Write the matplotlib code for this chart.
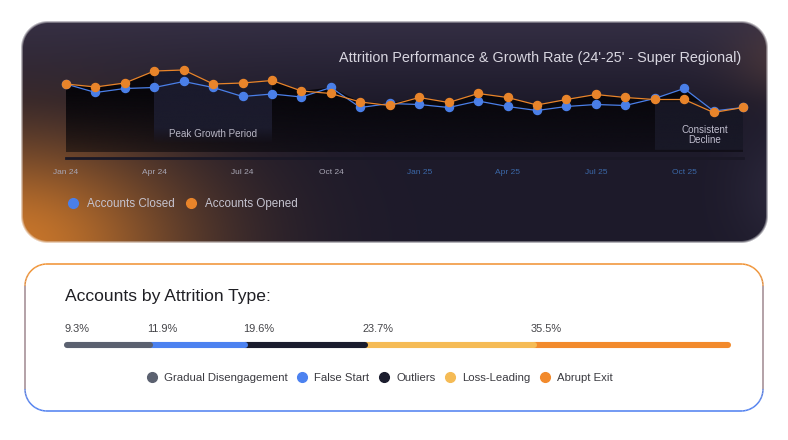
import numpy as np
import matplotlib
matplotlib.use("Agg")
import matplotlib.pyplot as plt
from matplotlib.collections import LineCollection
from matplotlib.lines import Line2D

plt.rcParams["font.family"] = ["Liberation Sans", "DejaVu Sans"]

# ---- data ----
months = ["Jan 24", "Feb 24", "Mar 24", "Apr 24", "May 24", "Jun 24",
          "Jul 24", "Aug 24", "Sep 24", "Oct 24", "Nov 24", "Dec 24",
          "Jan 25", "Feb 25", "Mar 25", "Apr 25", "May 25", "Jun 25",
          "Jul 25", "Aug 25", "Sep 25", "Oct 25", "Nov 25", "Dec 25"]
closed = [740, 655, 695, 705, 765, 705, 615, 640, 610, 705, 505, 545,
          535, 505, 570, 515, 475, 515, 535, 525, 595, 695, 470, 505]
opened = [740, 710, 750, 870, 880, 740, 750, 775, 670, 645, 560, 525,
          605, 555, 645, 605, 530, 585, 635, 605, 585, 585, 455, 505]
tick_months = ["Jan 24", "Apr 24", "Jul 24", "Oct 24",
               "Jan 25", "Apr 25", "Jul 25", "Oct 25"]

types = ["Gradual Disengagement", "False Start", "Outliers",
         "Loss-Leading", "Abrupt Exit"]
type_pct = [9.3, 11.9, 19.6, 23.7, 35.5]
seg_len = [12.5, 14.5, 18.1, 25.5, 29.4]  # drawn length of each segment (% of bar)
type_colors = ["#5b6170", "#4c82f0", "#1b1d2e", "#f5bb55", "#f28a2c"]

BLUE = "#4a7fe8"
ORANGE = "#e8842a"

W, H = 788, 440
fig = plt.figure(figsize=(W / 100, H / 100), dpi=100)


def px_axes(x0, y0, x1, y1):
    return fig.add_axes([x0 / W, 1 - y1 / H, (x1 - x0) / W, (y1 - y0) / H])


def rr_sdf(xx, yy, x0, y0, x1, y1, r):
    cx, cy = (x0 + x1) / 2, (y0 + y1) / 2
    qx = np.abs(xx - cx) - ((x1 - x0) / 2 - r)
    qy = np.abs(yy - cy) - ((y1 - y0) / 2 - r)
    out = np.hypot(np.maximum(qx, 0), np.maximum(qy, 0))
    return out + np.minimum(np.maximum(qx, qy), 0) - r


def rr_points(x0, y0, x1, y1, r, n=24):
    pts = []
    corners = [(x1 - r, y0 + r, -90, 0), (x1 - r, y1 - r, 0, 90),
               (x0 + r, y1 - r, 90, 180), (x0 + r, y0 + r, 180, 270)]
    for cx, cy, a0, a1 in corners:
        a = np.radians(np.linspace(a0, a1, n))
        pts += list(zip(cx + r * np.cos(a), cy + r * np.sin(a)))
    pts.append(pts[0])
    return np.array(pts)


def hexrgb(h):
    return np.array(matplotlib.colors.to_rgb(h))


# ---- background: dark panel with glow ----
bg = fig.add_axes([0, 0, 1, 1])
bg.set_xlim(0, W)
bg.set_ylim(H, 0)
bg.axis("off")

yy, xx = np.mgrid[0:H, 0:W] + 0.5
col = np.ones((H, W, 3)) * hexrgb("#1d1a2a")
top = np.clip(1 - (yy - 22) / 80, 0, 1)[..., None]
col = col + top * np.array([0.09, 0.08, 0.10])


def glow(col, cx, cy, sx, sy, amp, c):
    a = amp * np.exp(-((xx - cx) / sx) ** 2 - ((yy - cy) / sy) ** 2)
    return col * (1 - a[..., None]) + hexrgb(c) * a[..., None]


col = glow(col, 10, 245, 180, 110, 0.95, "#d07a2a")
col = glow(col, 790, 60, 60, 40, 0.3, "#8a5a40")
col = glow(col, 785, 190, 50, 60, 0.3, "#4a4560")

d = rr_sdf(xx, yy, 22, 22, 767, 242, 26)
a_panel = np.clip(0.5 - d / 3, 0, 1)[..., None]
img = np.ones((H, W, 3)) * (1 - a_panel) + np.clip(col, 0, 1) * a_panel
bg.imshow(img, extent=(0, W, H, 0), aspect="auto", interpolation="bilinear")

# ---- lower card border (orange top -> blue bottom) ----
pts = rr_points(25, 264, 763, 411, 22)
segs = np.stack([pts[:-1], pts[1:]], axis=1)
t = np.clip((segs[:, :, 1].mean(axis=1) - 270) / 135, 0, 1)[:, None]
seg_cols = hexrgb("#f0902f") * (1 - t) + hexrgb("#4d7ef0") * t
bg.add_collection(LineCollection(segs, colors=seg_cols, linewidths=1.1))

bg.text(65, 296, "Accounts by Attrition Type:", fontsize=12.6,
        color="#1f1f24", va="center", ha="left")

# ---- line chart ----
ax = px_axes(66, 50, 743, 158)
x = np.arange(len(months))
ax.set_xlim(0, len(months) - 1)
ax.set_ylim(0, 1080)
ax.patch.set_visible(False)
for s in ["top", "left", "right"]:
    ax.spines[s].set_visible(False)
ax.spines["bottom"].set_color("#1a1826")
ax.spines["bottom"].set_linewidth(2)
ax.set_yticks([])

upper = np.maximum(closed, opened)
area = ax.fill_between(x, 60, upper, color="none", lw=0)
clip = area.get_paths()[0]

v = np.linspace(0, 1080, 200)[:, None]
grad = np.zeros((200, 2, 4))
grad[..., :3] = hexrgb("#060509")
grad[..., 3] = np.clip(0.5 + 0.45 * v / 650, 0, 0.95)
im = ax.imshow(grad, extent=(0, 23, 0, 1080), origin="lower",
               aspect="auto", zorder=1)
im.set_clip_path(clip, transform=ax.transData)

# highlight: peak growth period
hl = np.zeros((200, 2, 4))
hl[..., :3] = hexrgb("#1d1d30")
hl[..., 3] = np.clip((v - 140) / 160, 0, 1) * 0.9
im2 = ax.imshow(hl, extent=(3, 7, 0, 1080), origin="lower",
                aspect="auto", zorder=2)
im2.set_clip_path(clip, transform=ax.transData)

# highlight: consistent decline
dc = np.zeros((200, 2, 4))
dc[..., :3] = hexrgb("#1c1c2c")
dc[..., 3] = np.where((v > 80) & (v < 560), 0.75, 0)
im3 = ax.imshow(dc, extent=(20, 23, 0, 1080), origin="lower",
                aspect="auto", zorder=2)
im3.set_clip_path(clip, transform=ax.transData)

ax.plot(x, closed, color=BLUE, lw=0.9, marker="o", ms=5.8, zorder=4,
        clip_on=False)
ax.plot(x, opened, color=ORANGE, lw=0.9, marker="o", ms=5.8, zorder=5,
        clip_on=False)

ax.text(5, 240, "Peak Growth Period", fontsize=7.1, color="#b8b6c4",
        ha="center", va="center", zorder=6)
ax.text(21.7, 230, "Consistent\nDecline", fontsize=7.1, color="#c0bece",
        ha="center", va="center", linespacing=1.0, zorder=6)

ax.set_xticks([months.index(m) for m in tick_months])
ax.set_xticklabels(tick_months, fontsize=6)
ax.tick_params(axis="x", length=0, pad=8)
for lab in ax.get_xticklabels():
    lab.set_color("#3b68a8" if lab.get_text().endswith("25") else "#a8a6b4")

fig.text(741 / W, 1 - 58 / H,
         "Attrition Performance & Growth Rate (24'-25' - Super Regional)",
         fontsize=10.4, color="#d8d6e0", ha="right", va="center")

top_handles = [Line2D([], [], ls="none", marker="o", ms=7, color=c)
               for c in [BLUE, ORANGE]]
fig.legend(top_handles, ["Accounts Closed", "Accounts Opened"],
           loc="center left", bbox_to_anchor=(68 / W, 1 - 204 / H),
           ncol=2, frameon=False, fontsize=8.4, labelcolor="#c5c3cf",
           handlelength=0.8, handletextpad=0.8, columnspacing=1.0,
           borderaxespad=0, borderpad=0)

# ---- stacked attrition bar ----
bax = px_axes(67, 315, 728, 355)
bax.set_xlim(0, 100)
bax.set_ylim(40, 0)
bax.axis("off")
starts = np.concatenate([[0], np.cumsum(seg_len)[:-1]])
for i in reversed(range(len(types))):
    bax.plot([starts[i], starts[i] + seg_len[i]], [30, 30],
             color=type_colors[i], lw=4.4, solid_capstyle="round",
             clip_on=False)
for s, p in zip(starts, type_pct):
    bax.text(s - 0.4, 14, f"{p}%", fontsize=7.9, color="#444448",
             ha="left", va="center")

bot_handles = [Line2D([], [], ls="none", marker="o", ms=7, color=c)
               for c in type_colors]
fig.legend(bot_handles, types, loc="center",
           bbox_to_anchor=(380 / W, 1 - 378 / H), ncol=5, frameon=False,
           fontsize=8.2, labelcolor="#3a3a40", handlelength=0.8,
           handletextpad=0.65, columnspacing=0.9, borderaxespad=0,
           borderpad=0)

fig.savefig("out.png", dpi=100)
